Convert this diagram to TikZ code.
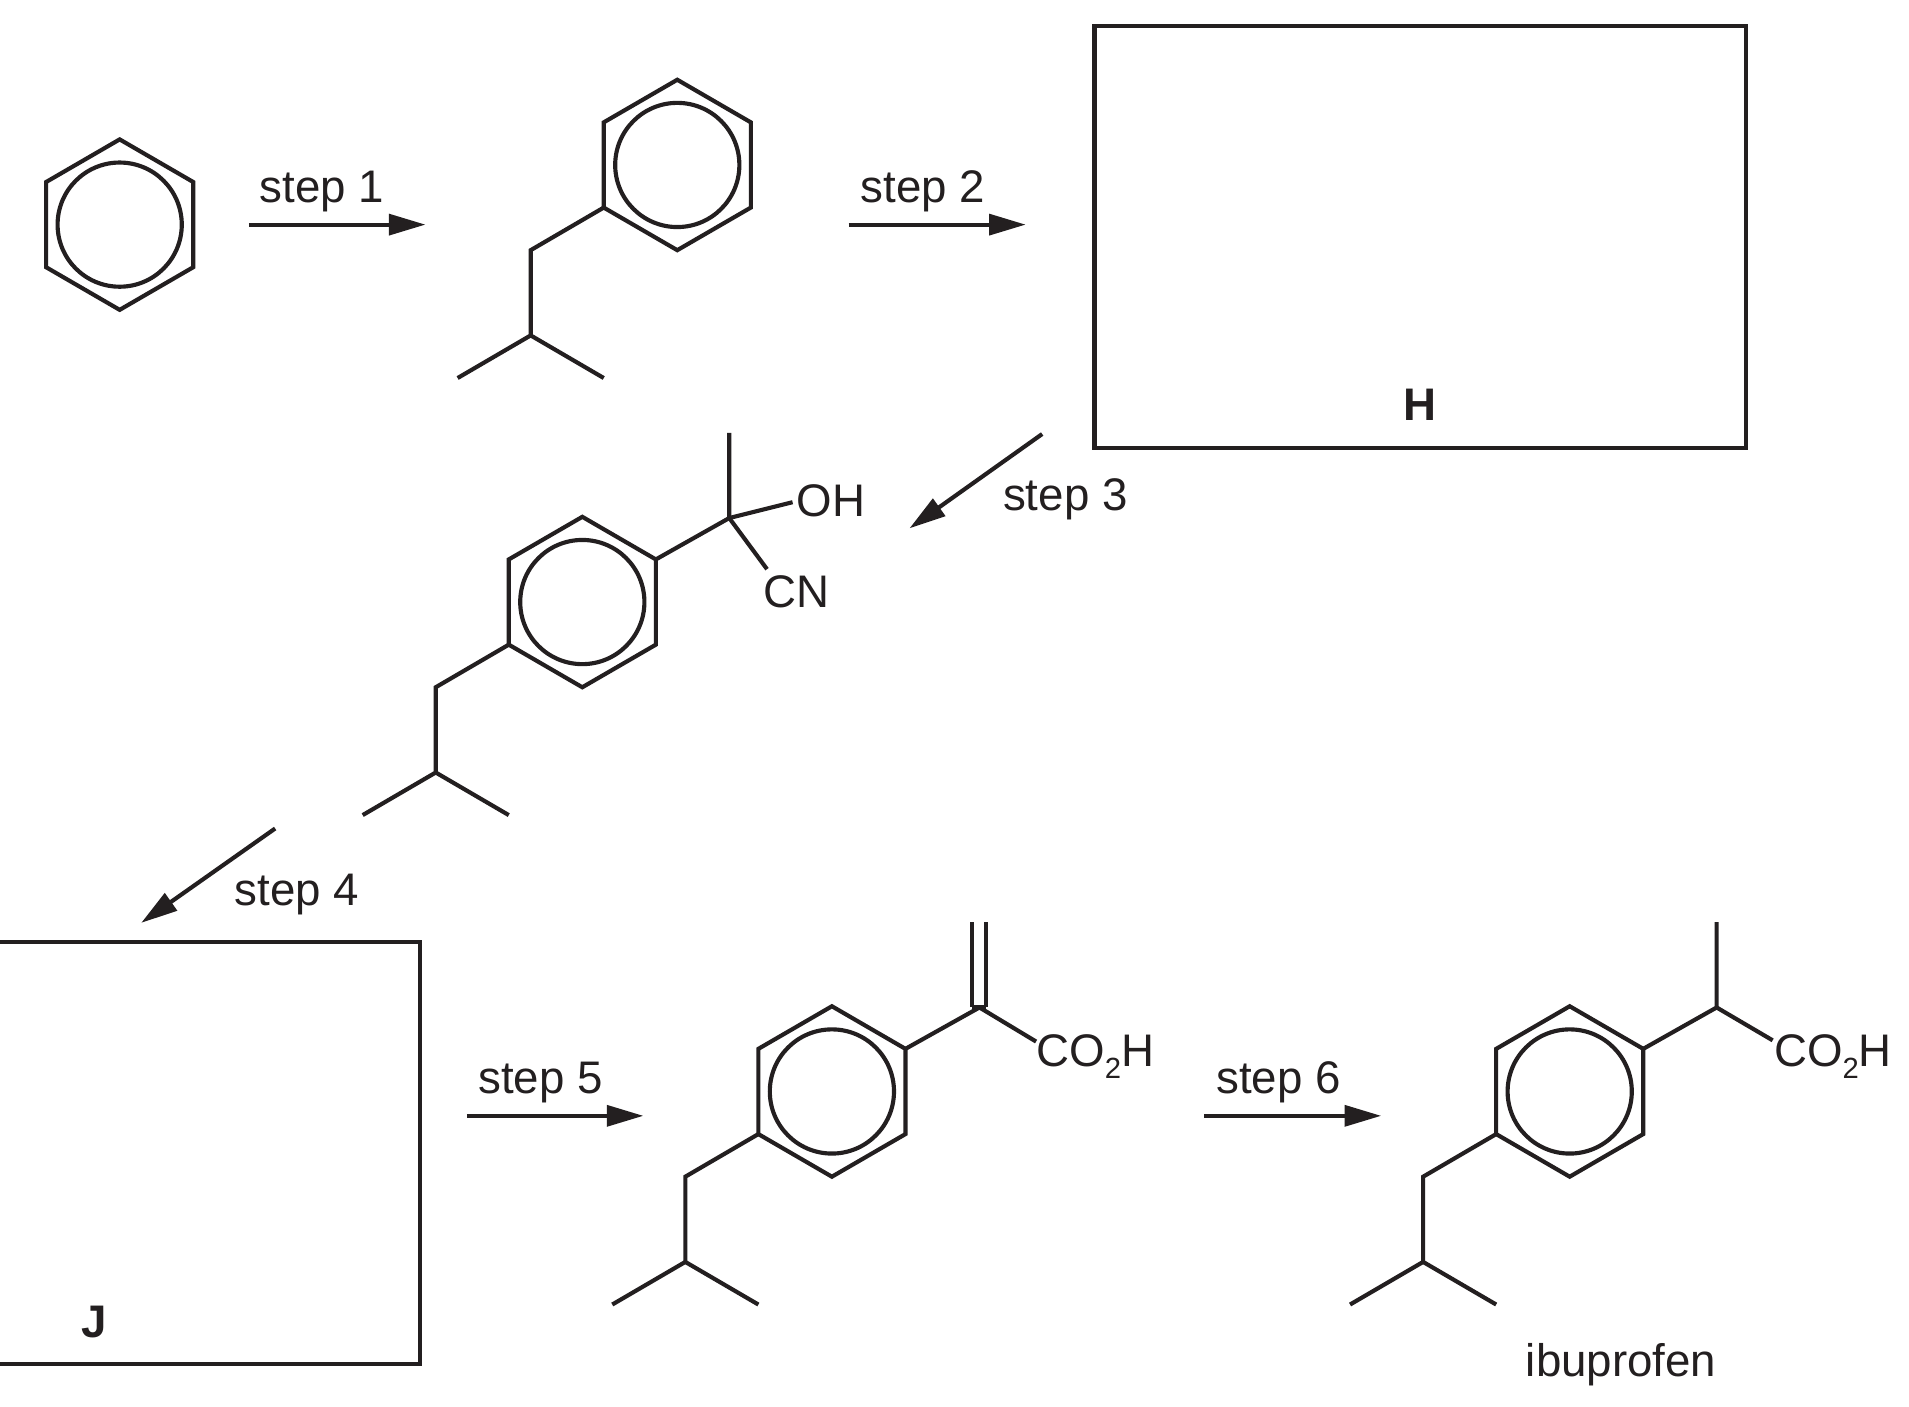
\documentclass[tikz,border=0pt]{standalone}
\usepackage{fontspec}
\setmainfont{Liberation Sans}
\usetikzlibrary{arrows.meta,calc}
\definecolor{ink}{HTML}{231F20}
\tikzset{
  bond/.style={draw=ink,line width=3.4pt,line join=miter},
  rxn/.style={draw=ink,line width=3.4pt,-{Triangle[length=30pt,width=17pt]}},
  answerbox/.style={draw=ink,line width=3.4pt,fill=none},
  lbl/.style={text=ink,font=\fontsize{37.5}{40}\selectfont,anchor=base,inner sep=0pt},
  lblw/.style={lbl,anchor=base west},
  boxlbl/.style={lbl,font=\fontsize{37.5}{40}\selectfont\bfseries}
}
\newcommand{\subtwo}{{\fontsize{24}{24}\selectfont\raisebox{-10pt}{2}}}
% ring: name, cx, cy
\newcommand{\ringat}[3]{%
  \coordinate (#1t) at (#2,#3-70);
  \coordinate (#1ur) at (#2+60.4,#3-35);
  \coordinate (#1lr) at (#2+60.4,#3+35);
  \coordinate (#1b) at (#2,#3+70);
  \coordinate (#1ll) at (#2-60.4,#3+35);
  \coordinate (#1ul) at (#2-60.4,#3-35);
  \coordinate (#1c) at (#2,#3);
  \draw[bond] (#1t)--(#1ur)--(#1lr)--(#1b)--(#1ll)--(#1ul)--cycle;
  \draw[bond] (#1c) circle[radius=51];
}
% isobutyl tail: ring name, tail name
\newcommand{\tailat}[2]{%
  \coordinate (#2a) at ($(#1ll)+(-60,35)$);
  \coordinate (#2b) at ($(#2a)+(0,70)$);
  \coordinate (#2c) at ($(#2b)+(-60,35)$);
  \coordinate (#2d) at ($(#2b)+(60,35)$);
  \draw[bond] (#1ll)--(#2a)--(#2b)--(#2c);
  \draw[bond] (#2b)--(#2d);
}
\begin{document}
\begin{tikzpicture}[x=1pt,y=-1pt]
\useasboundingbox (0,0) rectangle (1568,1155.6);
\begin{scope}[shift={(0,0.5)}]
% rings
\ringat{A}{98.3}{184}
\ringat{B}{556.3}{135}
\ringat{C}{478.3}{494}
\ringat{D}{683.3}{896}
\ringat{E}{1289.3}{896}
\tailat{B}{Bt}
\tailat{C}{Ct}
\tailat{D}{Dt}
\tailat{E}{Et}

% reaction arrows
\coordinate (a1s) at (204.5,184); \coordinate (a1e) at (349.5,184);
\coordinate (a2s) at (697,184); \coordinate (a2e) at (842.5,184);
\coordinate (a3s) at (856,356); \coordinate (a3e) at (747,433.5);
\coordinate (a4s) at (226,680); \coordinate (a4e) at (116,757.5);
\coordinate (a5s) at (383.5,916); \coordinate (a5e) at (528.5,916);
\coordinate (a6s) at (989,916); \coordinate (a6e) at (1134.5,916);
\draw[rxn] (a1s)--(a1e);
\draw[rxn] (a2s)--(a2e);
\draw[rxn] (a3s)--(a3e);
\draw[rxn] (a4s)--(a4e);
\draw[rxn] (a5s)--(a5e);
\draw[rxn] (a6s)--(a6e);

\node[lbl] (s1) at (264.5,166) {step 1};
\node[lbl] (s2) at (758,166) {step 2};
\node[lbl] (s3) at (875,419) {step 3};
\node[lbl] (s4) at (244,743) {step 4};
\node[lbl] (s5) at (444,898) {step 5};
\node[lbl] (s6) at (1050,898) {step 6};

% answer boxes
\coordinate (h1) at (899,21); \coordinate (h2) at (1434,367.5);
\draw[answerbox] (h1) rectangle (h2);
\node[boxlbl] (H) at (1166,345) {H};
\coordinate (j1) at (-3,773); \coordinate (j2) at (345,1120);
\draw[answerbox] (j1) rectangle (j2);
\node[boxlbl] (J) at (77,1098) {J};

% compound C substituents
\coordinate (Cq) at (599,425);
\coordinate (Cme) at (599,355);
\coordinate (COH) at (651,412);
\coordinate (CCN) at (630,467);
\draw[bond] (Cur)--(Cq)--(Cme);
\draw[bond] (Cq)--(COH);
\draw[bond] (Cq)--(CCN);
\node[lblw] (oh) at (654,424) {OH};
\node[lblw] (cn) at (627,498.5) {CN};

% compound D substituents
\coordinate (Dq) at (804.5,827);
\coordinate (Dv1) at (798.5,757); \coordinate (Dv1b) at (798.5,827);
\coordinate (Dv2) at (810,757); \coordinate (Dv2b) at (810,827);
\coordinate (Dac) at (851,855);
\draw[bond] (Dur)--(Dq)--(Dac);
\draw[bond] (Dv1)--(Dv1b);
\draw[bond] (Dv2)--(Dv2b);
\draw[bond] (Dv1b)--(Dv2b);
\node[lblw] (co1) at (851,875.5) {CO\subtwo H};

% ibuprofen substituents
\coordinate (Eq) at (1410,827);
\coordinate (Eme) at (1410,757);
\coordinate (Eac) at (1456,854);
\draw[bond] (Eur)--(Eq)--(Eme);
\draw[bond] (Eq)--(Eac);
\node[lblw] (co2) at (1457,875.5) {CO\subtwo H};
\node[lbl] (ibu) at (1331.5,1130) {ibuprofen};
\end{scope}
\end{tikzpicture}
\end{document}
